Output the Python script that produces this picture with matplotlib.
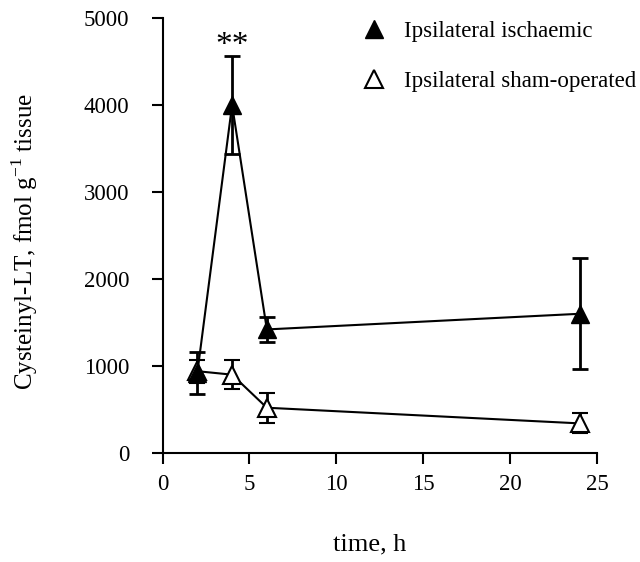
import matplotlib
matplotlib.use("Agg")
import matplotlib.pyplot as plt
from matplotlib.lines import Line2D

plt.rcParams["font.family"] = ["Liberation Serif", "DejaVu Serif"]
plt.rcParams["mathtext.fontset"] = "custom"
plt.rcParams["mathtext.rm"] = "Liberation Serif"

time_h = [2, 4, 6, 24]

ischaemic_mean = [920, 4000, 1420, 1600]
ischaemic_err = [240, 560, 140, 640]

sham_mean = [940, 900, 520, 340]
sham_err = [130, 165, 170, 115]

x_ticks = [0, 5, 10, 15, 20, 25]
y_ticks = [0, 1000, 2000, 3000, 4000, 5000]

fig = plt.figure(figsize=(6.4, 5.62), dpi=100)
ax = fig.add_axes([0.254, 0.194, 0.679, 0.774])

ax.errorbar(time_h, sham_mean, yerr=sham_err, color="black", lw=1.5,
            marker="^", markersize=13, markerfacecolor="white",
            markeredgecolor="black", markeredgewidth=1.5,
            capsize=6, capthick=2, elinewidth=2)
ax.errorbar(time_h, ischaemic_mean, yerr=ischaemic_err, color="black", lw=1.5,
            marker="^", markersize=13, markerfacecolor="black",
            markeredgecolor="black",
            capsize=6, capthick=2, elinewidth=2)

ax.text(4, 4680, "**", ha="center", va="center", fontsize=24)

ax.set_xlim(0, 25)
ax.set_ylim(0, 5000)
ax.set_xticks(x_ticks)
ax.set_yticks(y_ticks)
ax.tick_params(direction="out", length=8, width=1.5, labelsize=16.5)
ax.tick_params(axis="x", pad=7)
ax.tick_params(axis="y", pad=16)
for side in ["top", "right"]:
    ax.spines[side].set_visible(False)
for side in ["left", "bottom"]:
    ax.spines[side].set_linewidth(1.5)

ax.set_xlabel("time, h", fontsize=19)
ax.xaxis.set_label_coords(0.477, -0.184)
ax.set_ylabel("Cysteinyl-LT, fmol g$^{\\mathrm{-1}}$ tissue", fontsize=18)
ax.yaxis.set_label_coords(-0.283, 0.486)

handles = [
    Line2D([], [], ls="none", marker="^", markersize=13,
           markerfacecolor="black", markeredgecolor="black"),
    Line2D([], [], ls="none", marker="^", markersize=13,
           markerfacecolor="white", markeredgecolor="black",
           markeredgewidth=1.5),
]
labels = ["Ipsilateral ischaemic", "Ipsilateral sham-operated"]
ax.legend(handles, labels, loc="upper left", frameon=False, fontsize=16.5,
          handlelength=1.0, handletextpad=0.8, labelspacing=1.27,
          borderaxespad=0, bbox_to_anchor=(0.44, 1.014))

fig.savefig("out.png", dpi=100)
